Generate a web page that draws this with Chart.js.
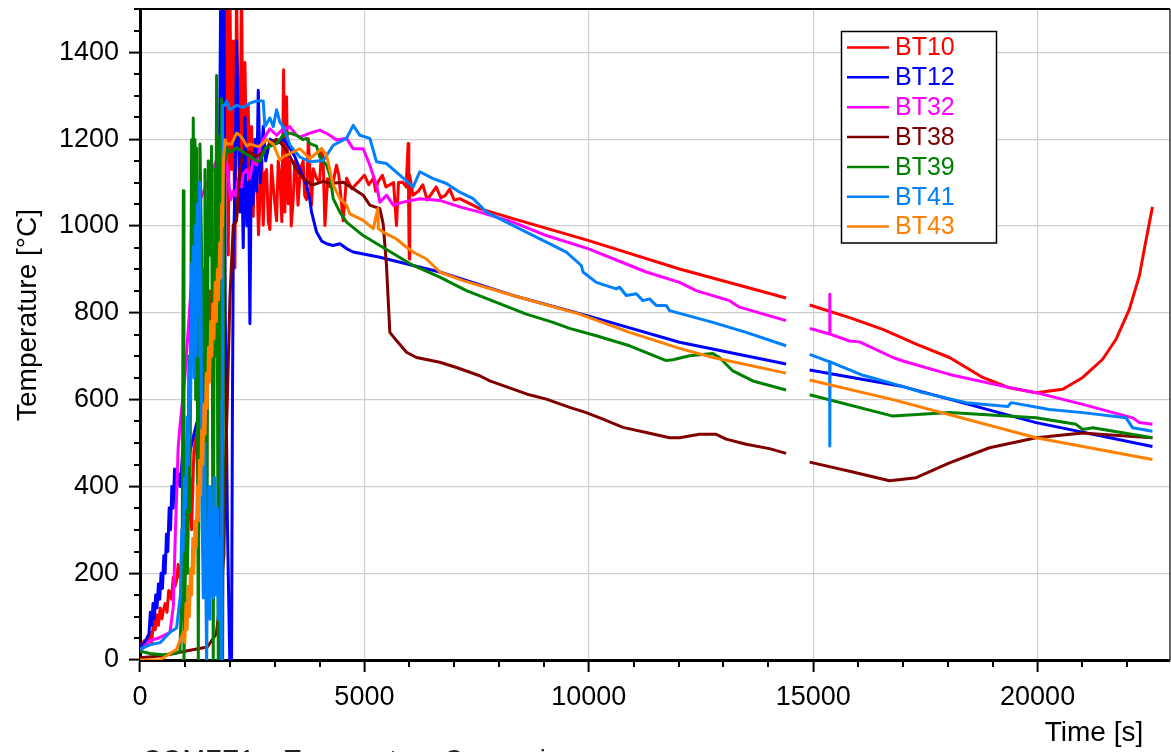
<!DOCTYPE html>
<html>
<head>
<meta charset="utf-8">
<title>BT temperatures</title>
<script src="https://cdn.jsdelivr.net/npm/chart.js@4.4.1/dist/chart.umd.min.js"></script>
<style>
  html, body { margin: 0; padding: 0; background: #fff; }
  #wrap { width: 1171px; height: 752px; position: relative; }
</style>
</head>
<body>
<div id="wrap"><canvas id="tempChart"></canvas></div>
<script>
// thermocouple readings, [time s, temperature °C]; null marks the logger gap
var BT10 = [[0,30],[100,45],[160,40],[223,64],[260,40],[300,90],[340,70],[371,104],[410,80],[450,120],[490,95],[520,114],[560,130],[600,110],[640,160],[668,153],[700,140],[740,190],[780,170],[816,183],[850,220],[890,190],[930,212],[960,280],[1000,260],[1050,200],[1080,350],[1113,420],[1150,300],[1200,480],[1250,520],[1300,400],[1360,650],[1420,880],[1450,600],[1484,910],[1520,700],[1560,850],[1600,760],[1650,900],[1700,820],[1780,950],[1818,1200],[1850,1000],
  [1930,1560],[1967,933],[2004,1540],[2041,1130],[2078,1426],[2115,903],[2150,1560],[2190,1200],[2226,1180],[2263,1560],[2300,1051],[2338,1377],[2375,1130],[2412,1278],[2449,1032],[2486,1229],[2523,1022],[2560,1160],[2597,1150],[2640,980],[2672,1061],[2710,1180],[2746,1002],[2780,1120],[2820,1130],[2860,1010],[2895,992],[2930,1140],[2969,1091],[3043,1012],[3080,1150],[3117,1120],[3160,1010],[3200,1360],[3228,1032],[3265,1298],[3302,1051],[3339,1150],[3370,1000],[3414,1061],[3450,1150],[3488,1130],[3520,1048],[3562,1110],[3600,1140],[3636,1150],[3670,1070],[3710,1061],[3750,1201],[3785,1130],[3820,1048],[3860,1132],[3933,1110],[4000,1101],[4050,1178],[4081,1150],[4120,1001],[4180,1109],[4230,1091],[4290,1094],[4378,1140],[4430,1117],[4527,1012],[4601,1110],[4720,1086],[4860,1101],[5000,1117],[5100,1095],[5200,1110],[5250,1080],[5300,1101],[5400,1117],[5480,1090],[5650,1100],[5715,1001],[5760,1100],[5850,1101],[5930,1090],[5975,1190],[5990,1000],[6000,924],[6010,1117],[6080,1071],[6200,1080],[6300,1095],[6400,1060],[6500,1075],[6600,1090],[6700,1065],[6800,1070],[6900,1085],[7000,1060],[7125,1063],[7570,1040],[8312,1017],[9982,967],[12022,901],[14396,834],
  [14650,null],[14921,818],[15811,789],[16553,762],[17295,728],[18037,697],[18779,651],[19373,627],[19966,616],[20560,624],[21005,651],[21450,693],[21747,739],[22044,808],[22267,885],[22378,947],[22559,1044]];

var BT12 = [[0,30],[100,40],[200,60],[230,110],[260,80],[290,130],[320,95],[350,150],[380,120],[410,175],[440,140],[470,200],[500,165],[530,240],[560,200],[590,290],[620,250],[650,350],[680,300],[710,400],[740,350],[770,440],[800,380],[850,430],[900,400],[950,480],[1000,430],[1200,520],[1400,600],[1600,700],[1750,900],[1800,1560],[1840,1200],[1870,1560],[1900,800],[1950,300],[2000,0],[2040,0],[2060,600],[2078,933],[2115,1081],[2152,1426],[2189,1229],[2226,1032],[2263,1170],[2300,950],[2340,1250],[2380,1000],[2420,1100],[2449,775],[2480,1150],[2520,1050],[2560,1200],[2600,1080],[2635,1313],[2680,1100],[2746,1229],[2800,1150],[2900,1200],[3043,1190],[3200,1200],[3339,1180],[3450,1160],[3562,1130],[3712,1094],[3785,1060],[3823,1032],[3934,986],[4050,965],[4157,959],[4300,955],[4454,959],[4600,948],[4750,940],[5344,928],[6086,909],[6680,894],[8312,840],[9982,793],[12022,732],[14396,682],
  [14650,null],[14921,668],[17000,630],[19966,547],[22559,492]];

var BT32 = [[0,20],[223,45],[400,50],[600,60],[668,64],[742,123],[790,300],[816,380],[850,489],[900,550],[1000,650],[1100,800],[1200,950],[1300,1050],[1500,1100],[1700,1150],[1800,1180],[1818,0],[1840,0],[1855,1100],[1893,1180],[1930,1150],[1967,1110],[2020,1060],[2078,1081],[2130,1070],[2189,1110],[2260,1090],[2300,1120],[2375,1130],[2449,1110],[2520,1150],[2597,1140],[2670,1180],[2746,1199],[2894,1224],[3043,1209],[3191,1224],[3266,1225],[3339,1229],[3488,1209],[3563,1205],[3785,1214],[4008,1221],[4230,1209],[4379,1198],[4602,1202],[4750,1178],[4973,1178],[5121,1140],[5270,1094],[5344,1055],[5493,1071],[5641,1048],[5864,1055],[6235,1063],[6680,1059],[7125,1044],[7570,1032],[8312,1009],[9054,978],[9982,948],[11280,894],[12022,870],[12393,851],[13135,828],[13358,813],[14396,782],
  [14650,null],[14921,764],[15366,751],[15370,843],[15375,751],[15811,735],[16034,733],[16776,697],[17000,689],[18037,658],[19224,631],[19966,616],[21005,589],[22118,558],[22267,547],[22559,543]];

var BT38 = [[0,5],[500,10],[1000,20],[1500,30],[1700,60],[1800,150],[1870,242],[1900,440],[1930,538],[2004,834],[2078,1002],[2152,1012],[2226,1130],[2300,1170],[2449,1170],[2597,1160],[2746,1170],[2894,1190],[3043,1200],[3191,1185],[3339,1160],[3488,1130],[3636,1110],[3785,1098],[3860,1095],[4083,1103],[4231,1098],[4528,1101],[4750,1086],[4973,1071],[5121,1048],[5344,1040],[5418,1005],[5492,909],[5567,755],[5715,736],[5938,709],[6160,697],[6680,686],[7051,674],[7570,655],[7793,643],[8312,624],[8609,613],[9054,601],[9573,582],[9944,570],[10315,555],[10761,536],[11280,524],[11800,512],[12022,512],[12467,520],[12838,520],[13061,509],[13506,497],[14025,487],[14396,476],
  [14650,null],[14921,456],[15811,435],[16701,413],[17295,420],[18037,454],[18928,489],[19966,512],[21005,523],[21376,520],[22559,512]];

var BT39 = [[0,20],[223,15],[500,12],[800,15],[890,20],[940,200],[965,1081],[980,0],[1000,100],[1039,500],[1060,200],[1090,700],[1113,341],[1150,1199],[1170,800],[1187,1249],[1205,900],[1224,1199],[1240,600],[1262,1180],[1299,0],[1320,700],[1336,1189],[1373,933],[1390,300],[1410,242],[1430,900],[1447,1130],[1484,0],[1500,500],[1521,1150],[1558,933],[1595,1184],[1632,0],[1650,700],[1670,1130],[1690,900],[1707,1347],[1744,0],[1760,800],[1781,1209],[1800,1000],[1818,1293],[1840,0],[1870,1130],[1930,1180],[2004,1170],[2152,1180],[2300,1170],[2449,1160],[2600,1150],[2672,1150],[2800,1180],[3043,1190],[3191,1209],[3339,1214],[3488,1209],[3636,1199],[3712,1202],[3785,1190],[3933,1184],[4008,1159],[4157,1140],[4231,1117],[4305,1063],[4454,1032],[4602,1009],[4973,978],[5344,955],[5715,932],[6086,909],[6680,882],[7273,851],[7941,824],[8609,797],[9202,778],[9573,764],[10167,747],[10909,724],[11725,690],[11874,692],[12245,701],[12764,706],[12912,697],[13209,666],[13655,643],[14396,622],
  [14650,null],[14921,611],[16776,562],[18037,570],[19966,558],[20856,543],[21005,531],[21228,535],[22559,512]];

var BT41 = [[0,25],[223,35],[450,40],[668,64],[816,74],[900,150],[930,300],[960,250],[990,420],[1020,350],[1050,560],[1080,450],[1110,700],[1130,600],[1150,913],[1170,750],[1187,953],[1205,650],[1230,1000],[1250,700],[1275,1050],[1300,800],[1320,1100],[1336,700],[1355,900],[1373,538],[1390,300],[1410,143],[1430,500],[1447,439],[1465,200],[1484,0],[1500,300],[1521,242],[1540,400],[1558,94],[1575,350],[1595,341],[1615,180],[1632,143],[1650,420],[1670,300],[1690,150],[1707,193],[1725,350],[1744,94],[1762,280],[1781,202],[1800,120],[1818,0],[1830,600],[1840,1278],[1893,1278],[1930,1288],[2004,1268],[2152,1278],[2300,1273],[2449,1283],[2597,1288],[2746,1288],[2783,1229],[2894,1249],[2969,1229],[3043,1268],[3117,1239],[3191,1229],[3265,1209],[3341,1186],[3563,1159],[3786,1148],[4083,1151],[4305,1186],[4602,1202],[4750,1232],[4899,1209],[5121,1202],[5270,1148],[5493,1144],[5789,1117],[6086,1090],[6235,1125],[6531,1109],[6828,1098],[7125,1078],[7422,1063],[7718,1032],[8163,1009],[8609,986],[9054,963],[9499,940],[9833,909],[9870,894],[10167,870],[10612,855],[10687,859],[10835,840],[11057,844],[11206,828],[11354,832],[11502,817],[11725,817],[11800,805],[12764,778],[13506,755],[14396,724],
  [14650,null],[14921,704],[15366,687],[15370,493],[15375,687],[16108,656],[16701,639],[17444,616],[18408,593],[19336,584],[19410,593],[20263,577],[21005,570],[21970,558],[22118,535],[22559,527]];

var BT43 = [[0,0],[223,0],[445,0],[668,15],[816,25],[965,64],[1000,40],[1025,130],[1050,70],[1075,170],[1100,100],[1125,210],[1150,150],[1175,280],[1200,200],[1225,320],[1250,260],[1275,400],[1300,320],[1325,460],[1350,380],[1375,530],[1400,450],[1425,590],[1450,520],[1475,660],[1500,580],[1525,720],[1550,640],[1575,780],[1600,700],[1625,820],[1650,740],[1675,870],[1700,780],[1725,900],[1750,830],[1775,960],[1800,880],[1820,1050],[1840,1000],[1860,1150],[1893,1199],[1930,1189],[2041,1189],[2152,1214],[2226,1209],[2300,1199],[2375,1184],[2449,1189],[2597,1184],[2672,1184],[2820,1199],[2894,1194],[2969,1189],[3043,1170],[3118,1152],[3191,1160],[3341,1167],[3563,1178],[3786,1155],[4046,1178],[4157,1163],[4305,1094],[4454,1063],[4602,1048],[4676,1028],[4973,1013],[5196,994],[5300,1040],[5310,994],[5418,986],[5715,970],[5938,951],[6086,940],[6383,924],[6680,894],[7199,874],[8312,840],[9796,797],[10909,755],[12022,718],[12764,697],[14396,661],
  [14650,null],[14921,645],[16776,600],[19966,512],[22559,462]];

var seriesNames = ['BT10', 'BT12', 'BT32', 'BT38', 'BT39', 'BT41', 'BT43'];
var seriesData = [BT10, BT12, BT32, BT38, BT39, BT41, BT43];
var seriesColors = ['#ff0000', '#0000ff', '#ff00ff', '#800000', '#008000', '#0080ff', '#ff8000'];

var xTicks = [0, 5000, 10000, 15000, 20000];
var yTicks = [0, 200, 400, 600, 800, 1000, 1200, 1400];
var xMax = 22950, yMax = 1500;
var FONT = '"Liberation Sans", Arial, sans-serif';

var datasets = seriesData.map(function (pts, i) {
    return {
        label: seriesNames[i],
        data: pts.map(function (p) { return { x: p[0], y: p[1] }; }),
        borderColor: seriesColors[i],
        backgroundColor: seriesColors[i],
        borderWidth: 3,
        pointRadius: 0,
        tension: 0,
        borderJoinStyle: 'round',
        spanGaps: false,
        order: seriesNames.length - i   // later probes drawn on top
    };
});

function setTicks(list) {
    return function (scale) {
        scale.ticks = list.map(function (v) { return { value: v }; });
    };
}

function gridColor(c) {
    return c.tick && c.tick.value === 0 ? 'rgba(0,0,0,0)' : '#cfcfcf';
}

// minor ticks, frame, axis titles, legend box and caption
var decorations = {
    id: 'decorations',
    afterDraw: function (chart) {
        var ctx = chart.ctx, a = chart.chartArea;
        var xs = chart.scales.x, ys = chart.scales.y;
        ctx.save();

        ctx.strokeStyle = '#000';
        ctx.lineWidth = 2;
        for (var t = 1000; t <= xMax; t += 1000) {
            if (t % 5000 === 0) continue;
            var px = Math.round(xs.getPixelForValue(t));
            ctx.beginPath(); ctx.moveTo(px, a.bottom); ctx.lineTo(px, a.bottom + 7); ctx.stroke();
        }
        for (var v = 50; v <= yMax; v += 50) {
            if (v % 200 === 0) continue;
            var py = Math.round(ys.getPixelForValue(v));
            ctx.beginPath(); ctx.moveTo(a.left - 6, py); ctx.lineTo(a.left, py); ctx.stroke();
        }

        // top and right frame
        ctx.lineWidth = 2;
        ctx.beginPath(); ctx.moveTo(a.left, a.top); ctx.lineTo(a.right, a.top); ctx.stroke();
        ctx.lineWidth = 1.5;
        ctx.strokeStyle = '#333';
        ctx.beginPath(); ctx.moveTo(a.right, a.top); ctx.lineTo(a.right, a.bottom); ctx.stroke();

        // axis titles
        ctx.fillStyle = '#000';
        ctx.font = '28px ' + FONT;
        ctx.textAlign = 'center';
        ctx.textBaseline = 'alphabetic';
        ctx.fillText('Time [s]', 1094, 741);
        ctx.save();
        ctx.translate(36, 315);
        ctx.rotate(-Math.PI / 2);
        ctx.fillText('Temperature [°C]', 0, 0);
        ctx.restore();

        // legend
        var lx = 841.5, ly = 31.5, lw = 155, lh = 211.5;
        ctx.fillStyle = '#fff';
        ctx.fillRect(lx, ly, lw, lh);
        ctx.strokeStyle = '#000';
        ctx.lineWidth = 1.5;
        ctx.strokeRect(lx, ly, lw, lh);
        ctx.font = '25px ' + FONT;
        ctx.textAlign = 'left';
        ctx.textBaseline = 'middle';
        seriesNames.forEach(function (name, i) {
            var ry = 47.5 + i * 29.85;
            ctx.strokeStyle = seriesColors[i];
            ctx.lineWidth = 2.5;
            ctx.beginPath(); ctx.moveTo(847, ry); ctx.lineTo(889, ry); ctx.stroke();
            ctx.fillStyle = seriesColors[i];
            ctx.fillText(name, 895, ry + 1);
        });

        // caption below the plot (mostly past the bottom edge)
        ctx.fillStyle = '#222';
        ctx.font = '27px ' + FONT;
        ctx.textAlign = 'left';
        ctx.textBaseline = 'alphabetic';
        ctx.fillText('COMFE1 \u2013 Temperature Comparison', 142, 769);
        ctx.restore();
    }
};

Chart.defaults.font.family = FONT;
Chart.defaults.color = '#000';

new Chart(document.getElementById('tempChart'), {
    type: 'line',
    data: { datasets: datasets },
    options: {
        responsive: true,
        maintainAspectRatio: false,
        animation: false,
        devicePixelRatio: 1,
        layout: { padding: { top: 9, right: 1, left: 0, bottom: 0 } },
        plugins: {
            legend: { display: false },
            tooltip: { enabled: false }
        },
        scales: {
            x: {
                type: 'linear',
                min: 0,
                max: xMax,
                afterBuildTicks: setTicks(xTicks),
                afterFit: function (s) { s.height = 92; s.paddingRight = 0; s.paddingLeft = 0; },
                border: { color: '#000', width: 3 },
                grid: {
                    color: gridColor,
                    lineWidth: 1.2,
                    tickColor: '#000',
                    tickWidth: 2,
                    tickLength: 12
                },
                ticks: {
                    autoSkip: false,
                    maxRotation: 0,
                    padding: 9,
                    font: { size: 27 },
                    color: '#000',
                    callback: function (v) { return String(v); }
                }
            },
            y: {
                type: 'linear',
                min: 0,
                max: yMax,
                afterBuildTicks: setTicks(yTicks),
                afterFit: function (s) { s.width = 140; s.paddingTop = 0; s.paddingBottom = 0; },
                border: { color: '#000', width: 3 },
                grid: {
                    color: gridColor,
                    lineWidth: 1.2,
                    tickColor: '#000',
                    tickWidth: 2,
                    tickLength: 11
                },
                ticks: {
                    autoSkip: false,
                    padding: 10,
                    font: { size: 27 },
                    color: '#000',
                    callback: function (v) { return String(v); }
                }
            }
        }
    },
    plugins: [decorations]
});
</script>
</body>
</html>
